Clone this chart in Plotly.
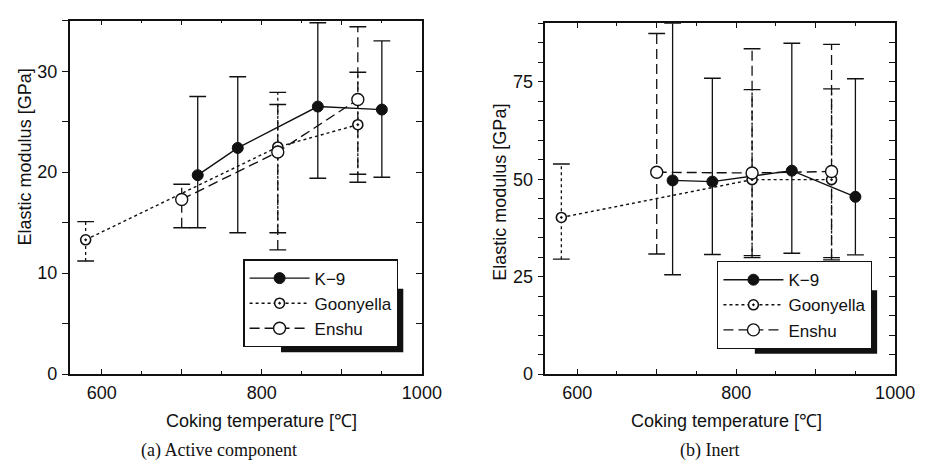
import plotly.graph_objects as go

# ---------------- data ----------------
# (a) Active component
a_k9_x = [720, 770, 870, 950]
a_k9_y = [19.7, 22.4, 26.5, 26.2]
a_k9_hi = [27.5, 29.45, 34.8, 33.0]
a_k9_lo = [14.5, 14.0, 19.4, 19.5]

a_go_x = [580, 820, 920]
a_go_y = [13.3, 22.5, 24.7]
a_go_hi = [15.1, 27.9, 29.9]
a_go_lo = [11.2, 14.0, 19.8]

a_en_x = [700, 820, 920]
a_en_y = [17.3, 22.0, 27.2]
a_en_hi = [18.8, 26.7, 34.4]
a_en_lo = [14.5, 12.3, 19.0]

# (b) Inert
b_k9_x = [720, 770, 870, 950]
b_k9_y = [49.7, 49.4, 52.2, 45.5]
b_k9_hi = [90.0, 75.9, 84.9, 75.8]
b_k9_lo = [25.5, 30.7, 31.0, 30.6]

b_go_x = [580, 820, 920]
b_go_y = [40.2, 49.9, 49.9]
b_go_hi = [53.9, 73.0, 73.2]
b_go_lo = [29.5, 29.9, 29.9]

b_en_x = [700, 820, 920]
b_en_y = [51.8, 51.6, 52.0]
b_en_hi = [87.4, 83.5, 84.6]
b_en_lo = [30.8, 30.4, 29.3]

series_names = ["K−9", "Goonyella", "Enshu"]
x_tickvals = [600, 700, 800, 900, 1000]
x_ticktext = ["600", "", "800", "", "1000"]
a_y_tickvals = [0, 10, 20, 30]
b_y_tickvals = [0, 25, 50, 75]

# ---------------- styles ----------------
W, H = 927, 473
FONT = "Liberation Sans, Arial, sans-serif"
BLACK = "#111111"
dashes = {"K−9": "solid", "Goonyella": "dot", "Enshu": "10px,5px"}


def px2x(p):
    return p / W


def px2y(p):
    return (H - p) / H


fig = go.Figure()


def err_trace(xs, lo, hi, dash, xa, ya):
    ex, ey = [], []
    for x, l, h in zip(xs, lo, hi):
        ex += [x, x, None]
        ey += [l, h, None]
    return go.Scatter(
        x=ex, y=ey, mode="lines+markers", xaxis=xa, yaxis=ya,
        line=dict(color=BLACK, width=1.3, dash=dash),
        marker=dict(symbol="line-ew-open", size=12, line=dict(color=BLACK, width=1.4)),
        showlegend=False, hoverinfo="skip",
    )


def main_trace(name, xs, ys, xa, ya, legend):
    if name == "K−9":
        mk = dict(symbol="circle", size=11, color=BLACK, line=dict(color=BLACK, width=1))
    elif name == "Goonyella":
        mk = dict(symbol="circle-dot", size=10, color="white", line=dict(color=BLACK, width=1.6))
    else:
        mk = dict(symbol="circle", size=12, color="white", line=dict(color=BLACK, width=1.4))
    return go.Scatter(
        x=xs, y=ys, mode="lines+markers", name=name, xaxis=xa, yaxis=ya,
        line=dict(color=BLACK, width=1.4, dash=dashes[name]), marker=mk,
        legend=legend,
    )


panels = [
    ("x", "y", "legend",
     [(a_k9_x, a_k9_y, a_k9_lo, a_k9_hi), (a_go_x, a_go_y, a_go_lo, a_go_hi), (a_en_x, a_en_y, a_en_lo, a_en_hi)]),
    ("x2", "y2", "legend2",
     [(b_k9_x, b_k9_y, b_k9_lo, b_k9_hi), (b_go_x, b_go_y, b_go_lo, b_go_hi), (b_en_x, b_en_y, b_en_lo, b_en_hi)]),
]

for xa, ya, lg, data in panels:
    for name, (xs, ys, lo, hi) in zip(series_names, data):
        fig.add_trace(err_trace(xs, lo, hi, dashes[name], xa, ya))
    for name, (xs, ys, lo, hi) in zip(series_names, data):
        fig.add_trace(main_trace(name, xs, ys, xa, ya, lg))

tickfont = dict(family=FONT, size=18, color=BLACK)

xcommon = dict(
    range=[560, 1000], tickvals=x_tickvals, ticktext=x_ticktext,
    ticks="inside", ticklen=5, tickwidth=1.2, tickcolor=BLACK,
    showline=True, linecolor=BLACK, linewidth=1.5, mirror="ticks",
    showgrid=False, zeroline=False, tickfont=tickfont,
    minor=dict(dtick=50, ticks="inside", ticklen=3, tickwidth=1, tickcolor=BLACK),
    ticklabelstandoff=2,
)

left_dom = [px2x(63), px2x(423)]
right_dom = [px2x(549.3), px2x(906.7)]

LEG_FONT = 17
# legend boxes: bottom-right pixel corners
leg_corners = [(399, 346.7), (883.3, 348.3)]

def legend_cfg(corner):
    return dict(
        x=px2x(corner[0]), y=px2y(corner[1]), xanchor="right", yanchor="bottom",
        bgcolor="white", bordercolor=BLACK, borderwidth=1.2,
        font=dict(family=FONT, size=LEG_FONT, color=BLACK), itemwidth=60,
        tracegroupgap=0,
    )

fig.update_layout(
    width=W, height=H, margin=dict(l=0, r=0, t=0, b=0),
    paper_bgcolor="white", plot_bgcolor="white",
    font=dict(family=FONT, size=18, color=BLACK),
    xaxis=dict(domain=left_dom, anchor="y", **xcommon),
    xaxis2=dict(domain=right_dom, anchor="y2", **xcommon),
    yaxis=dict(
        domain=[px2y(374), px2y(13)], anchor="x", range=[0, 35],
        tickvals=a_y_tickvals, ticks="outside", ticklen=6, tickwidth=1.2, tickcolor=BLACK,
        showline=True, linecolor=BLACK, linewidth=1.5, mirror=True,
        showgrid=False, zeroline=False, tickfont=tickfont,
        minor=dict(dtick=5, ticks="outside", ticklen=6, tickwidth=1, tickcolor=BLACK),
        ticklabelstandoff=1,
    ),
    yaxis2=dict(
        domain=[px2y(374), px2y(15.7)], anchor="x2", range=[0, 90],
        tickvals=b_y_tickvals, ticks="outside", ticklen=6, tickwidth=1.2, tickcolor=BLACK,
        showline=True, linecolor=BLACK, linewidth=1.5, mirror=True,
        showgrid=False, zeroline=False, tickfont=tickfont,
        minor=dict(dtick=5, ticks="outside", ticklen=6, tickwidth=1, tickcolor=BLACK),
        ticklabelstandoff=1,
    ),
    yaxis3=dict(
        overlaying="y", anchor="x", side="right", range=[0, 35],
        tickvals=a_y_tickvals, ticks="inside", ticklen=6, tickwidth=1.2, tickcolor=BLACK,
        showticklabels=False, showgrid=False, zeroline=False, showline=False,
        minor=dict(dtick=5, ticks="inside", ticklen=6, tickwidth=1, tickcolor=BLACK),
    ),
    yaxis4=dict(
        overlaying="y2", anchor="x2", side="right", range=[0, 90],
        tickvals=b_y_tickvals, ticks="inside", ticklen=6, tickwidth=1.2, tickcolor=BLACK,
        showticklabels=False, showgrid=False, zeroline=False, showline=False,
        minor=dict(dtick=5, ticks="inside", ticklen=6, tickwidth=1, tickcolor=BLACK),
    ),
    legend=legend_cfg(leg_corners[0]),
    legend2=legend_cfg(leg_corners[1]),
)

# invisible traces so the mirrored inner-tick axes are drawn
fig.add_trace(go.Scatter(x=[None], y=[None], xaxis="x", yaxis="y3", showlegend=False, hoverinfo="skip"))
fig.add_trace(go.Scatter(x=[None], y=[None], xaxis="x2", yaxis="y4", showlegend=False, hoverinfo="skip"))

# legend shadows (under the legend box, offset 5 px right/down)
for (rx, by) in leg_corners:
    fig.add_shape(type="rect", xref="paper", yref="paper",
                  x0=px2x(rx - 120), x1=px2x(rx + 5), y0=px2y(by + 5), y1=px2y(by - 60),
                  fillcolor=BLACK, line=dict(width=0), layer="above")

ann = []
ann.append(dict(text="Coking temperature [℃]", x=px2x(259), y=px2y(421.7)))
ann.append(dict(text="Coking temperature [℃]", x=px2x(734), y=px2y(421.7)))
ann.append(dict(text="Elastic modulus [GPa]", x=px2x(17), y=px2y(152), textangle=-90))
ann.append(dict(text="Elastic modulus [GPa]", x=px2x(502), y=px2y(188.5), textangle=-90))
for a in ann:
    fig.add_annotation(xref="paper", yref="paper", xanchor="center", yanchor="middle",
                       showarrow=False, font=dict(family=FONT, size=18, color=BLACK), **a)

for text, cx in [("(a) Active component", 216), ("(b) Inert", 716.7)]:
    fig.add_annotation(text=text, xref="paper", yref="paper", x=px2x(cx), y=px2y(451.7),
                       xanchor="center", yanchor="middle", showarrow=False,
                       font=dict(family="Liberation Serif, Times New Roman, serif", size=18, color=BLACK))

fig.write_html("out.html")
